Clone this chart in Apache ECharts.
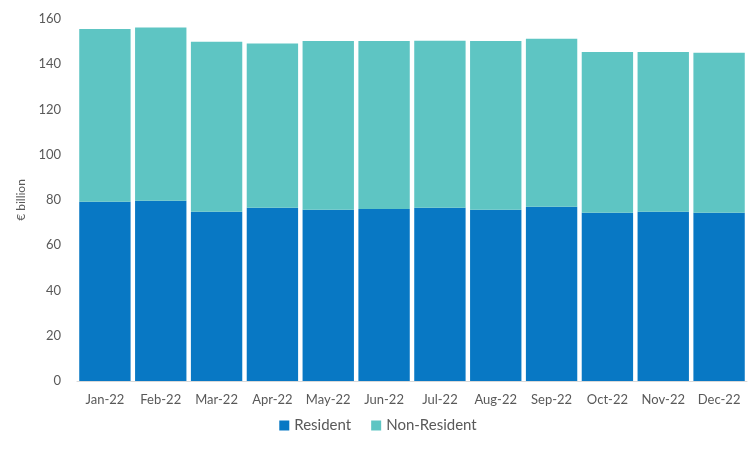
<!DOCTYPE html>
<html><head><meta charset="utf-8">
<script src="https://cdn.jsdelivr.net/npm/echarts@6/dist/echarts.min.js"></script>
<style>html,body{margin:0;padding:0;background:#fff}#c{width:756px;height:450px}</style>
</head><body><div id="c"></div>
<script>
var months = ['Jan-22','Feb-22','Mar-22','Apr-22','May-22','Jun-22','Jul-22','Aug-22','Sep-22','Oct-22','Nov-22','Dec-22']
var resident = [79.2, 79.7, 74.8, 76.6, 75.7, 76.0, 76.6, 75.7, 77.0, 74.4, 74.8, 74.4]
var nonResident = [76.4, 76.5, 75.1, 72.6, 74.6, 74.3, 73.8, 74.6, 74.3, 71.0, 70.6, 70.7]
var yTicks = [0, 20, 40, 60, 80, 100, 120, 140, 160]

var chart = echarts.init(document.getElementById('c'))
chart.setOption({
    animation: false,
    textStyle: { fontFamily: 'Lato' },
    grid: { left: 77, right: 9, top: 19, bottom: 69 },
    legend: {
        bottom: 12,
        itemWidth: 10, itemHeight: 10, itemGap: 20,
        icon: 'rect',
        textStyle: { color: '#595959', fontSize: 15 },
        data: ['Resident', 'Non-Resident']
    },
    xAxis: {
        type: 'category',
        data: months,
        axisLine: { lineStyle: { color: '#d9d9d9' } },
        axisTick: { show: false },
        axisLabel: { color: '#595959', fontSize: 13, margin: 12, interval: 0 }
    },
    yAxis: {
        type: 'value',
        min: yTicks[0], max: yTicks[yTicks.length - 1], interval: 20,
        name: '€ billion',
        nameLocation: 'middle',
        nameGap: 44,
        nameTextStyle: { color: '#595959', fontSize: 12 },
        splitLine: { show: false },
        axisLine: { show: false },
        axisLabel: { color: '#595959', fontSize: 13, margin: 16 }
    },
    series: [{
        name: 'Resident', type: 'bar', stack: 'a',
        barCategoryGap: '8%',
        itemStyle: { color: '#0878c4' },
        data: resident
    }, {
        name: 'Non-Resident', type: 'bar', stack: 'a',
        itemStyle: { color: '#5ec5c3' },
        data: nonResident
    }]
})
</script>
</body></html>
